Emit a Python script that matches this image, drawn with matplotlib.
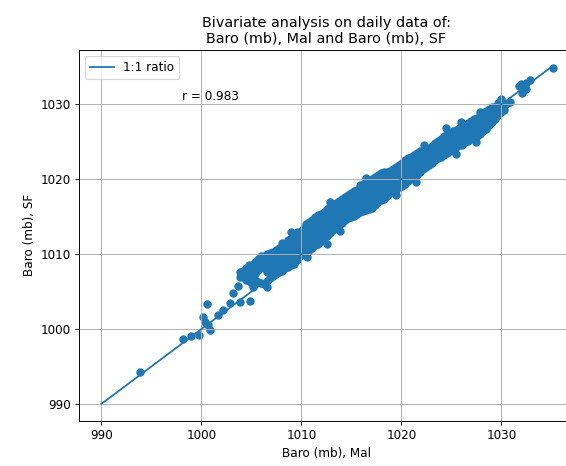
import numpy as np
import matplotlib
matplotlib.use("Agg")
import matplotlib.pyplot as plt

# daily pressure, Mal (x) vs SF (y)
# dense band: one x per column, several SF values per column
band_mal = [1003.9, 1004.5, 1005.1, 1005.7, 1006.3, 1006.9, 1007.5, 1008.1,
            1008.7, 1009.3, 1009.9, 1010.5, 1011.1, 1011.7, 1012.3, 1012.9,
            1013.5, 1014.1, 1014.7, 1015.3, 1015.9, 1016.5, 1017.1, 1017.7,
            1018.3, 1018.9, 1019.5, 1020.1, 1020.7, 1021.3, 1021.9, 1022.5,
            1023.1, 1023.7, 1024.3, 1024.9, 1025.5, 1026.1, 1026.7, 1027.3,
            1027.9, 1028.5, 1029.1, 1029.7, 1030.3, 1030.9]
band_sf = [
    [1006.9, 1007.6],
    [1006.6, 1007.4, 1008.2],
    [1006.2, 1007.0, 1007.8, 1008.6],
    [1006.3, 1007.9, 1008.7, 1009.3],
    [1006.0, 1008.2, 1009.0, 1009.7],
    [1006.8, 1007.6, 1008.5, 1009.3, 1010.2],
    [1007.3, 1008.1, 1008.9, 1009.7, 1010.6],
    [1007.8, 1008.6, 1009.4, 1010.2, 1011.0, 1011.5],
    [1008.3, 1009.1, 1009.9, 1010.7, 1011.4, 1011.9],
    [1008.7, 1009.5, 1010.3, 1011.1, 1011.9, 1012.5],
    [1009.8, 1010.6, 1011.4, 1012.2, 1013.0],
    [1010.3, 1011.1, 1011.9, 1012.7, 1013.5, 1014.0],
    [1010.8, 1011.6, 1012.4, 1013.2, 1014.0, 1014.6],
    [1011.4, 1012.2, 1013.0, 1013.8, 1014.6, 1015.2],
    [1012.0, 1012.8, 1013.6, 1014.4, 1015.2, 1015.6],
    [1012.8, 1013.6, 1014.4, 1015.2, 1016.0, 1016.4],
    [1013.6, 1014.4, 1015.2, 1016.0, 1016.8],
    [1014.1, 1014.9, 1015.7, 1016.5, 1017.3],
    [1014.8, 1015.6, 1016.4, 1017.2, 1017.9],
    [1015.1, 1015.9, 1016.7, 1017.5, 1018.4],
    [1015.6, 1016.4, 1017.2, 1018.0, 1018.8, 1019.2],
    [1015.9, 1016.7, 1017.5, 1018.3, 1019.1, 1019.6],
    [1016.1, 1016.9, 1017.7, 1018.5, 1019.3, 1020.0],
    [1016.9, 1017.7, 1018.5, 1019.3, 1020.1, 1020.6],
    [1017.4, 1018.2, 1019.0, 1019.8, 1020.6, 1021.0],
    [1018.1, 1018.9, 1019.7, 1020.5, 1021.1],
    [1018.6, 1019.4, 1020.2, 1021.0, 1021.6],
    [1019.1, 1019.9, 1020.7, 1021.5, 1022.1],
    [1019.7, 1020.5, 1021.3, 1022.1, 1022.8],
    [1020.2, 1021.0, 1021.8, 1022.6, 1023.2],
    [1020.9, 1021.7, 1022.5, 1023.3, 1023.7],
    [1021.6, 1022.4, 1023.2, 1023.9],
    [1022.1, 1022.9, 1023.7, 1024.4],
    [1022.8, 1023.6, 1024.4, 1025.1],
    [1023.2, 1024.0, 1024.8, 1025.7],
    [1023.8, 1024.6, 1025.4, 1026.2],
    [1024.3, 1025.1, 1025.9, 1026.6],
    [1024.6, 1025.4, 1026.2, 1027.0],
    [1025.1, 1025.9, 1026.7, 1027.5],
    [1025.6, 1026.4, 1027.2, 1028.0],
    [1026.0, 1026.8, 1027.6, 1028.5, 1029.0],
    [1026.7, 1027.5, 1028.3, 1029.1],
    [1027.6, 1028.4, 1029.2, 1029.7],
    [1028.6, 1029.4, 1030.2],
    [1029.3, 1030.0],
    [1030.3],
]

# second set of days, falling between the columns above
band2_mal = [1004.2, 1004.8, 1005.4, 1006.0, 1006.6, 1007.2, 1007.8, 1008.4,
             1009.0, 1009.6, 1010.2, 1010.8, 1011.4, 1012.0, 1012.6, 1013.2,
             1013.8, 1014.4, 1015.0, 1015.6, 1016.2, 1016.8, 1017.4, 1018.0,
             1018.6, 1019.2, 1019.8, 1020.4, 1021.0, 1021.6, 1022.2, 1022.8,
             1023.4, 1024.0, 1024.6, 1025.2, 1025.8, 1026.4, 1027.0, 1027.6,
             1028.2, 1028.8, 1029.4, 1030.0]
band2_sf = [
    [1007.0, 1007.8],
    [1006.4, 1007.2, 1008.0, 1008.5],
    [1006.6, 1007.4, 1008.2, 1009.0],
    [1006.1, 1008.4, 1009.2, 1009.7],
    [1006.4, 1007.6, 1008.4, 1009.2, 1010.0],
    [1007.1, 1007.9, 1008.7, 1009.5, 1010.3],
    [1007.6, 1008.4, 1009.2, 1010.0, 1010.8],
    [1008.1, 1008.9, 1009.7, 1010.5, 1011.3],
    [1008.5, 1009.3, 1010.1, 1010.9, 1011.7, 1012.2],
    [1009.2, 1010.0, 1010.8, 1011.6, 1012.4, 1012.9],
    [1010.1, 1010.9, 1011.7, 1012.5, 1013.3],
    [1010.6, 1011.4, 1012.2, 1013.0, 1013.8, 1014.3],
    [1011.2, 1012.0, 1012.8, 1013.6, 1014.4, 1014.9],
    [1011.7, 1012.5, 1013.3, 1014.1, 1014.9, 1015.4],
    [1012.4, 1013.2, 1014.0, 1014.8, 1015.6, 1016.0],
    [1013.2, 1014.0, 1014.8, 1015.6, 1016.4],
    [1013.9, 1014.7, 1015.5, 1016.3, 1017.1],
    [1014.5, 1015.3, 1016.1, 1016.9, 1017.6],
    [1015.0, 1015.8, 1016.6, 1017.4, 1018.1],
    [1015.4, 1016.2, 1017.0, 1017.8, 1018.6],
    [1015.8, 1016.6, 1017.4, 1018.2, 1019.0, 1019.4],
    [1016.0, 1016.8, 1017.6, 1018.4, 1019.2, 1019.8],
    [1016.5, 1017.3, 1018.1, 1018.9, 1019.7, 1020.3],
    [1017.2, 1018.0, 1018.8, 1019.6, 1020.4, 1020.8],
    [1017.8, 1018.6, 1019.4, 1020.2, 1020.9],
    [1018.4, 1019.2, 1020.0, 1020.8, 1021.4],
    [1018.9, 1019.7, 1020.5, 1021.3, 1021.9],
    [1019.4, 1020.2, 1021.0, 1021.8, 1022.5],
    [1020.0, 1020.8, 1021.6, 1022.4, 1023.0],
    [1020.6, 1021.4, 1022.2, 1023.0, 1023.5],
    [1021.3, 1022.1, 1022.9, 1023.6],
    [1021.9, 1022.7, 1023.5, 1024.2],
    [1022.5, 1023.3, 1024.1, 1024.8],
    [1023.0, 1023.8, 1024.6, 1025.4],
    [1023.5, 1024.3, 1025.1, 1025.9],
    [1024.1, 1024.9, 1025.7, 1026.4],
    [1024.5, 1025.3, 1026.1, 1026.8],
    [1024.9, 1025.7, 1026.5, 1027.2],
    [1025.4, 1026.2, 1027.0, 1027.8],
    [1025.8, 1026.6, 1027.4, 1028.2],
    [1026.4, 1027.2, 1028.0, 1028.8],
    [1027.2, 1028.0, 1028.8, 1029.4],
    [1028.1, 1028.9, 1029.7],
    [1029.0, 1029.7, 1030.4],
]

# scattered points outside the band (low tail, edge bumps and high end)
extra_mal = [993.9, 998.2, 999.0, 999.8, 1000.2, 1000.6, 1000.4, 1000.9,
             1000.7, 1001.7, 1002.2, 1002.9, 1003.2, 1003.7, 1003.9, 1004.9,
             1006.6, 1005.2, 1030.0, 1030.5, 1031.8, 1032.0, 1032.5, 1032.1,
             1032.9, 1032.5, 1035.2,
             1012.6, 1013.9, 1019.5, 1021.5, 1025.5, 1027.5, 1010.6,
             1012.9, 1016.5, 1022.3, 1024.5, 1026.0, 1009.0]
extra_sf = [994.2, 998.6, 999.0, 999.2, 1001.6, 1003.3, 1000.9, 999.9,
            1000.5, 1001.8, 1002.5, 1003.4, 1004.8, 1005.8, 1003.6, 1003.8,
            1005.6, 1005.6, 1030.7, 1030.0, 1032.4, 1032.7, 1032.0, 1031.5,
            1033.3, 1032.9, 1034.8,
            1011.4, 1013.1, 1017.9, 1019.6, 1023.3, 1024.9, 1009.6,
            1016.9, 1020.1, 1024.5, 1026.8, 1027.6, 1012.9]

ratio_line = [990, 1035]
r_value = 0.983

# expand band columns into x/y pairs
mal = list(extra_mal)
sf = list(extra_sf)
for xs, yss in [(band_mal, band_sf), (band2_mal, band2_sf)]:
    for x, ys in zip(xs, yss):
        for y in ys:
            mal.append(x)
            sf.append(y)

dpi = 86
fig = plt.figure(figsize=(566 / dpi, 466 / dpi), dpi=dpi)
ax = fig.add_axes([79 / 566, 45.3 / 466, 495 / 566, 370.7 / 466])

ax.scatter(mal, sf, color="C0")
ax.plot(ratio_line, ratio_line, color="C0", label="1:1 ratio")

ax.text(998.1, 1031.1, f"r = {r_value}", va="center", ha="left")

ax.set_xlim(987.75, 1037.25)
ax.set_ylim(987.75, 1037.25)
ax.set_xlabel("Baro (mb), Mal")
ax.set_ylabel("Baro (mb), SF")
ax.set_title("Bivariate analysis on daily data of:\nBaro (mb), Mal and Baro (mb), SF")
ax.legend(loc="upper left")
ax.grid(True)

fig.savefig("out.png", dpi=dpi)
